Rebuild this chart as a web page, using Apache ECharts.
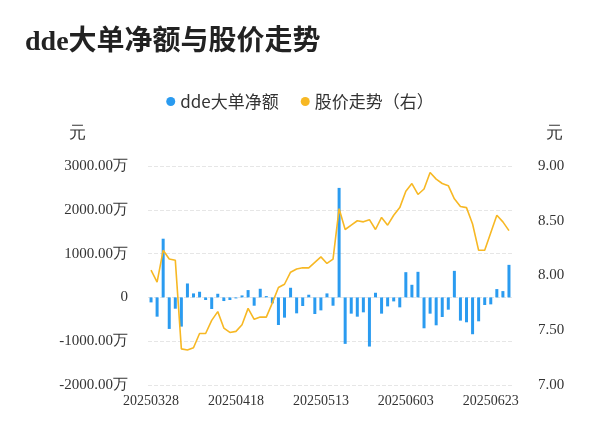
<!DOCTYPE html>
<html>
<head>
<meta charset="utf-8">
<script src="https://cdn.jsdelivr.net/npm/echarts@6/dist/echarts.min.js"></script>
<style>html,body{margin:0;padding:0;background:#fff}#chart{width:600px;height:446px}</style>
</head>
<body>
<div id="chart"></div>
<script>
var dates = ['20250328','20250331','20250401','20250402','20250403','20250407','20250408','20250409','20250410','20250411',
  '20250414','20250415','20250416','20250417','20250418','20250421','20250422','20250423','20250424','20250425',
  '20250428','20250429','20250430','20250506','20250507','20250508','20250509','20250512','20250513','20250514',
  '20250515','20250516','20250519','20250520','20250521','20250522','20250523','20250526','20250527','20250528',
  '20250529','20250530','20250603','20250604','20250605','20250606','20250609','20250610','20250611','20250612',
  '20250613','20250616','20250617','20250618','20250619','20250620','20250623','20250624','20250625','20250626'];

// dde大单净额（万元）
var ddeNet = [-114,-440,1340,-720,-258,-667,318,91,129,-60,
  -265,83,-83,-60,-23,45,167,-190,197,30,
  -136,-630,-462,220,-364,-197,61,-379,-296,91,
  -190,2500,-1061,-371,-440,-341,-1122,106,-371,-205,
  -91,-227,576,288,584,-705,-371,-637,-447,-280,
  606,-530,-568,-841,-546,-174,-159,190,144,743];

// 股价（元）
var price = [8.05,7.94,8.23,8.15,8.14,7.33,7.32,7.34,7.47,7.47,
  7.59,7.67,7.52,7.48,7.49,7.55,7.70,7.60,7.62,7.62,
  7.75,7.89,7.92,8.03,8.06,8.07,8.07,8.12,8.17,8.11,
  8.15,8.61,8.42,8.46,8.50,8.49,8.51,8.42,8.53,8.46,
  8.55,8.62,8.77,8.84,8.74,8.79,8.94,8.88,8.84,8.82,
  8.70,8.63,8.62,8.47,8.23,8.23,8.39,8.55,8.49,8.41];

var chart = echarts.init(document.getElementById('chart'));

var option = {
    animation: false,
    title: {
        text: 'dde大单净额与股价走势',
        left: 20, top: 24,
        textStyle: {fontSize: 28, fontWeight: 'bold', color: '#222', fontFamily: 'Liberation Serif, Noto Sans CJK SC'}
    },
    legend: {
        top: 88, left: 'center',
        itemWidth: 9, itemHeight: 9, itemGap: 22,
        textStyle: {fontSize: 17, color: '#333', fontFamily: 'Noto Sans CJK SC'},
        data: [{name: 'dde大单净额', icon: 'circle'}, {name: '股价走势（右）', icon: 'circle'}]
    },
    color: ['#2a9bf0', '#f7b824'],
    grid: {left: 148, right: 88, top: 166, bottom: 61},
    xAxis: {
        type: 'category',
        data: dates,
        axisLine: {show: false},
        axisTick: {show: false},
        axisLabel: {interval: 13, color: '#333', fontSize: 14, fontFamily: 'Liberation Serif', margin: 9}
    },
    yAxis: [
        {
            type: 'value', name: '元', min: -2000, max: 3000, interval: 1000,
            nameLocation: 'end', nameGap: 24,
            nameTextStyle: {fontSize: 17, color: '#333', align: 'right', padding: [0, 62, 0, 0]},
            axisLabel: {
                color: '#333', fontSize: 15, fontFamily: 'Liberation Serif', margin: 20,
                formatter: function (v) { return v === 0 ? '0' : v.toFixed(2) + '万'; }
            },
            splitLine: {lineStyle: {type: 'dashed', color: '#e6e6e6'}}
        },
        {
            type: 'value', name: '元', min: 7, max: 9, interval: 0.5,
            nameGap: 24,
            nameTextStyle: {fontSize: 17, color: '#333', align: 'left', padding: [0, 0, 0, 34]},
            axisLabel: {
                color: '#333', fontSize: 15, fontFamily: 'Liberation Serif', margin: 26,
                formatter: function (v) { return v.toFixed(2); }
            },
            splitLine: {show: false}
        }
    ],
    series: [
        {name: 'dde大单净额', type: 'bar', data: ddeNet, barWidth: 3, yAxisIndex: 0},
        {name: '股价走势（右）', type: 'line', data: price, yAxisIndex: 1, symbol: 'none',
         lineStyle: {width: 1.6}}
    ]
};

chart.setOption(option, true);
</script>
</body>
</html>
